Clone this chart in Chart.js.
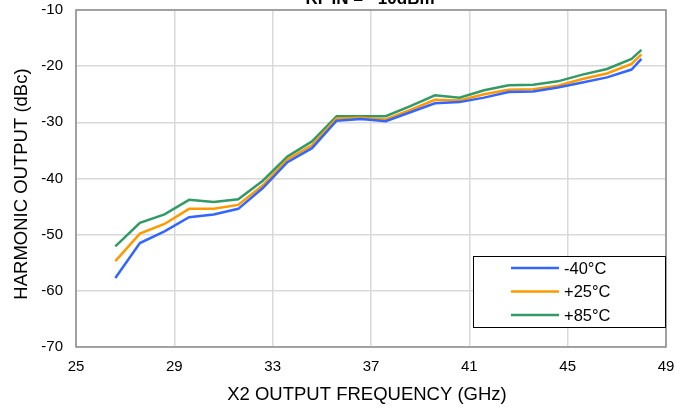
<!DOCTYPE html>
<html>
<head>
<meta charset="utf-8">
<script src="https://cdn.jsdelivr.net/npm/chart.js@4/dist/chart.umd.min.js"></script>
<style>
  html, body { margin: 0; padding: 0; background: #fff; }
  #wrap { width: 675px; height: 409px; }
</style>
</head>
<body>
<div id="wrap"><canvas id="harmChart" width="675" height="409"></canvas></div>
<script>
const freqs = [26.6, 27.6, 28.6, 29.6, 30.6, 31.6, 32.6, 33.6, 34.6, 35.6, 36.6, 37.6,
  38.6, 39.6, 40.6, 41.6, 42.6, 43.6, 44.6, 45.6, 46.6, 47.6, 48.0];

const minus40 = [-57.7, -51.5, -49.4, -46.9, -46.4, -45.4, -41.7, -37.1, -34.6, -29.7, -29.4, -29.8,
  -28.2, -26.6, -26.4, -25.6, -24.6, -24.5, -23.8, -22.9, -22.0, -20.6, -18.7];
const plus25 = [-54.7, -49.8, -48.1, -45.4, -45.4, -44.7, -41.2, -36.6, -34.1, -29.3, -29.2, -29.5,
  -27.8, -26.0, -26.1, -25.0, -24.2, -24.1, -23.5, -22.3, -21.3, -19.6, -17.9];
const plus85 = [-52.1, -47.9, -46.4, -43.8, -44.2, -43.7, -40.4, -36.1, -33.4, -28.9, -28.9, -28.9,
  -27.1, -25.2, -25.6, -24.3, -23.4, -23.3, -22.7, -21.5, -20.5, -18.7, -17.1];

const seriesLabels = ['-40°C', '+25°C', '+85°C'];
const seriesColors = ['#3366ff', '#ff9900', '#339966'];
const xTicks = [25, 29, 33, 37, 41, 45, 49];
const yTicks = [-10, -20, -30, -40, -50, -60, -70];
const titleText = 'RF\u2009IN = \u221210dBm';
const xTitle = 'X2 OUTPUT FREQUENCY (GHz)';
const yTitle = 'HARMONIC OUTPUT (dBc)';

const FONT = '"Liberation Sans", Arial, sans-serif';

const toPoints = (ys) => ys.map((y, i) => ({ x: freqs[i], y }));

// border round the plot area, clipped title, axis titles
const frame = {
  id: 'frame',
  afterDraw(chart) {
    const { ctx, chartArea } = chart;
    ctx.save();
    ctx.strokeStyle = '#8c8c8c';
    ctx.lineWidth = 1.5;
    ctx.strokeRect(chartArea.left, chartArea.top, chartArea.right - chartArea.left, chartArea.bottom - chartArea.top);
    ctx.fillStyle = '#000';
    ctx.font = 'bold 17px ' + FONT;
    ctx.textAlign = 'center';
    ctx.textBaseline = 'alphabetic';
    ctx.fillText(titleText, (chartArea.left + chartArea.right) / 2 - 1, 4);
    ctx.font = '18.5px ' + FONT;
    ctx.fillText(xTitle, 367, 400);
    ctx.translate(27, 184);
    ctx.rotate(-Math.PI / 2);
    ctx.fillText(yTitle, 0, 0);
    ctx.restore();
  }
};

// boxed legend bottom right
const boxLegend = {
  id: 'boxLegend',
  afterDraw(chart) {
    const { ctx, chartArea } = chart;
    const x0 = chartArea.right - 193, y0 = chartArea.bottom - 91;
    const w = 192, h = 71;
    ctx.save();
    ctx.fillStyle = '#fff';
    ctx.fillRect(x0, y0, w, h);
    ctx.strokeStyle = '#000';
    ctx.lineWidth = 1;
    ctx.strokeRect(x0 + 0.5, y0 + 0.5, w, h);
    ctx.font = '16.5px ' + FONT;
    ctx.textBaseline = 'middle';
    ctx.textAlign = 'left';
    chart.data.datasets.forEach((ds, i) => {
      const cy = y0 + 12 + i * 23.5;
      ctx.strokeStyle = ds.borderColor;
      ctx.lineWidth = 2.5;
      ctx.beginPath();
      ctx.moveTo(x0 + 38, cy);
      ctx.lineTo(x0 + 86, cy);
      ctx.stroke();
      ctx.fillStyle = '#000';
      ctx.fillText(ds.label, x0 + 91, cy + 1);
    });
    ctx.restore();
  }
};

new Chart(document.getElementById('harmChart'), {
  type: 'line',
  data: {
    datasets: [minus40, plus25, plus85].map((ys, i) => ({
      label: seriesLabels[i],
      data: toPoints(ys),
      borderColor: seriesColors[i],
      backgroundColor: seriesColors[i],
      borderWidth: 2.5,
      pointRadius: 0,
      tension: 0,
      fill: false
    }))
  },
  options: {
    responsive: false,
    animation: false,
    layout: { padding: { top: 10, right: 9, left: 0, bottom: 0 } },
    plugins: {
      legend: { display: false },
      tooltip: { enabled: false }
    },
    scales: {
      x: {
        type: 'linear',
        min: 25, max: 49,
        afterBuildTicks(scale) { scale.ticks = xTicks.map(v => ({ value: v })); },
        afterFit(scale) {
          scale.height = 62;
          scale.paddingLeft = 0;
          scale.paddingRight = 0;
        },
        grid: { color: '#d9d9d9', lineWidth: 1.5, drawTicks: false },
        border: { display: false },
        ticks: { color: '#000', font: { family: FONT, size: 15 }, padding: 11 }
      },
      y: {
        type: 'linear',
        min: -70, max: -10,
        afterBuildTicks(scale) { scale.ticks = yTicks.map(v => ({ value: v })); },
        afterFit(scale) {
          scale.width = 76;
          scale.paddingTop = 0;
          scale.paddingBottom = 0;
        },
        grid: { color: '#d9d9d9', lineWidth: 1.5, drawTicks: false },
        border: { display: false },
        ticks: { color: '#000', font: { family: FONT, size: 15 }, padding: 13 }
      }
    }
  },
  plugins: [frame, boxLegend]
});
</script>
</body>
</html>
